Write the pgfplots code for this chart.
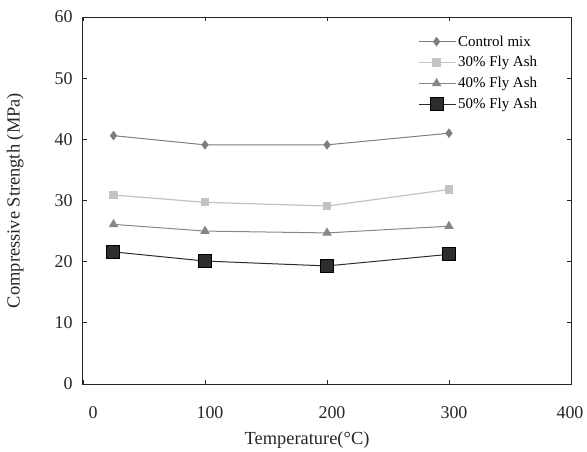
\documentclass[border=0pt]{standalone}
\usepackage{fontspec}
\setmainfont{Liberation Serif}
\usepackage{pgfplots}
\pgfplotsset{compat=1.18}
\definecolor{cCtrl}{RGB}{125,125,125}
\definecolor{cThirty}{RGB}{195,195,195}
\definecolor{cForty}{RGB}{135,135,135}
\definecolor{cFifty}{RGB}{45,45,45}
\begin{document}
\begin{tikzpicture}
\begin{axis}[
  scale only axis,
  width=488bp, height=367bp,
  xmin=0, xmax=400, ymin=0, ymax=60,
  xtick={0,100,200,300,400},
  xticklabels={\hspace{10bp}0,100,200,300,\hspace{-12bp}400},
  ytick={0,10,20,30,40,50,60},
  tick align=inside,
  major tick length=4bp,
  axis line style={line width=1bp, black!85},
  tick style={black!85, line width=0.8bp},
  /pgf/number format/assume math mode=true,
  ticklabel style={font=\fontsize{18}{18}\selectfont, text=black!85},
  xticklabel style={yshift=-19bp, xshift=5bp},
  yticklabel style={xshift=-7bp},
  xlabel={Temperature(°C)},
  ylabel={Compressive Strength (MPa)},
  label style={font=\fontsize{18.5}{18.5}\selectfont, text=black!85},
  xlabel style={xshift=-20bp, yshift=-6bp},
  ylabel style={yshift=24bp},
  legend style={draw=none, fill=none, at={(0.686,0.955)}, anchor=north west,
    font=\fontsize{15}{15}\selectfont, row sep=5bp, inner sep=0pt,
    /tikz/every even column/.append style={column sep=1bp}},
  legend cell align=left,
  legend image code/.code={\draw[mark repeat=2,mark phase=2] plot coordinates {(0bp,0bp) (18bp,0bp) (37bp,0bp)};},
]
\addplot[color=cCtrl, line width=1bp, mark=diamond*, mark size=4bp, mark options={fill=cCtrl, draw=cCtrl}]
  coordinates {(25,40.6) (100,39.1) (200,39.1) (300,41.0)};
\addlegendentry{Control mix}
\addplot[color=cThirty, line width=1.2bp, mark=square*, mark size=3.5bp, mark options={fill=cThirty, draw=cThirty}]
  coordinates {(25,30.9) (100,29.7) (200,29.1) (300,31.8)};
\addlegendentry{30\% Fly Ash}
\addplot[color=cForty, line width=1bp, mark=triangle*, mark size=4.5bp, mark options={fill=cForty, draw=cForty}]
  coordinates {(25,26.1) (100,25.0) (200,24.7) (300,25.8)};
\addlegendentry{40\% Fly Ash}
\addplot[color=cFifty, line width=1bp, mark=square*, mark size=6.5bp, mark options={fill=cFifty, draw=black}]
  coordinates {(25,21.6) (100,20.1) (200,19.3) (300,21.2)};
\addlegendentry{50\% Fly Ash}
\coordinate (sw) at (rel axis cs:0,0);
\coordinate (ne) at (rel axis cs:1,1);
\end{axis}
\pgfresetboundingbox
\path ([shift={(-83bp,-68bp)}]sw) rectangle ([shift={(16bp,17bp)}]ne);
\end{tikzpicture}
\end{document}
